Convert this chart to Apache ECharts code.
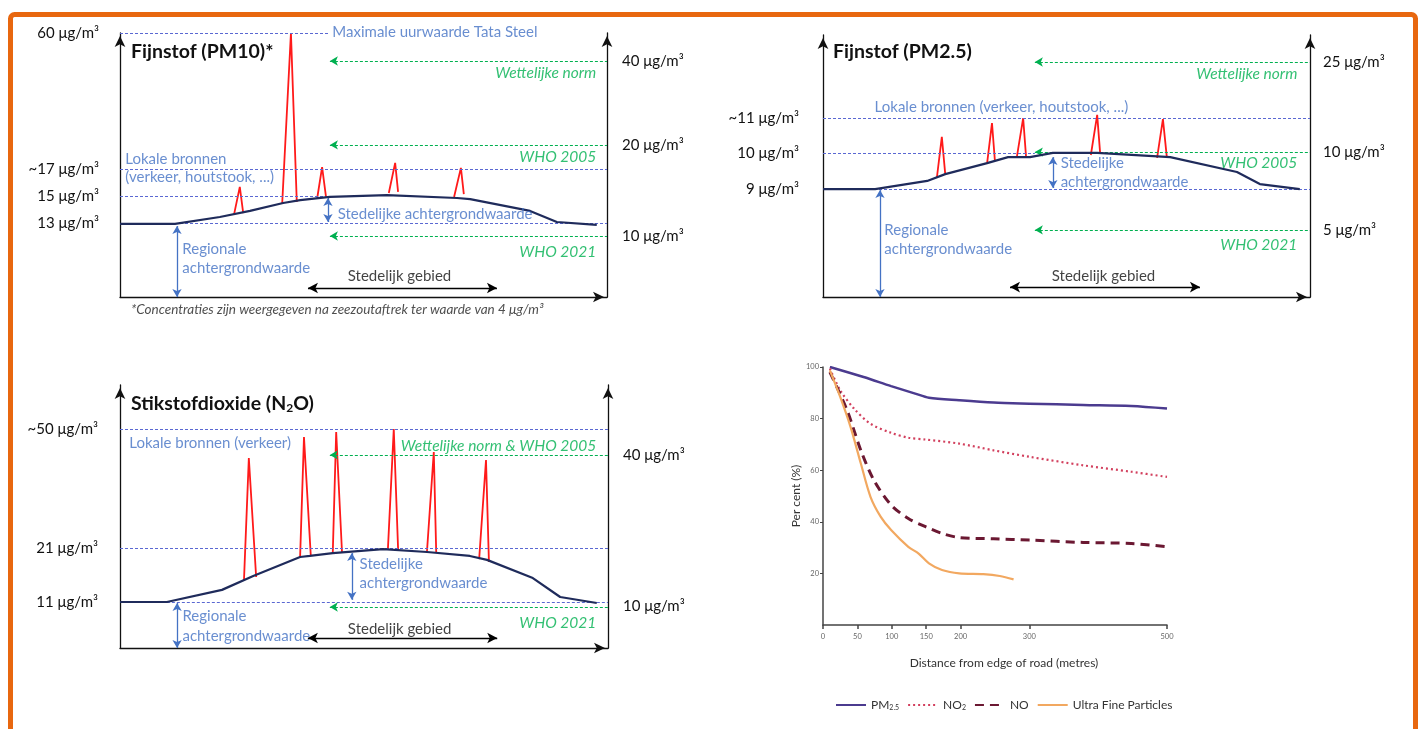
<!DOCTYPE html>
<html><head><meta charset="utf-8">
<script src="https://cdn.jsdelivr.net/npm/echarts@6/dist/echarts.min.js"></script>
<style>html,body{margin:0;padding:0;background:#fff}#c{width:1423px;height:729px}</style>
</head><body><div id="c"></div><script>
// ===== Schematic panels: x = relative distance (0-100), y = schematic height index (0-100) =====
// ---- PM10 ----
const pm10Profile = [[0,27.7],[11.3,27.7],[20.5,30.3],[26.7,32.6],[33.5,35.6],[37.0,36.7],[43.1,37.9],[54.8,38.6],[69.2,37.5],[71.9,37.1],[84.2,32.6],[89.7,28.4],[97.9,27.3]];
const pm10Peaks = [
  [[23.4,31.1],[24.6,41.7],[25.3,31.8]],
  [[33.3,35.2],[35.1,100],[36.3,36.0]],
  [[40.5,37.5],[41.5,49.2],[42.3,37.9]],
  [[55.2,39.4],[56.5,50.8],[57.1,39.8]],
  [[68.6,37.9],[70.0,48.9],[70.6,39.0]]
];
const pm10LeftLabels = ['60 μg/m³','~17 μg/m³','15 μg/m³','13 μg/m³'];
const pm10LeftLevels = [100,48.5,38.3,28.0];
const pm10RightLabels = ['40 μg/m³','20 μg/m³','10 μg/m³'];
const pm10RightLevels = [89.4,57.6,23.1];
const pm10BlueLines = [[100,0,43.1],[48.5,0,100],[38.3,0,43.1],[28.0,11.3,100]];
const pm10GreenLines = [[89.4,43.1,100],[57.6,43.1,100],[23.1,43.1,100]];
const pm10VArrows = [[11.7,26.9,0],[42.7,37.5,28.4]];
const pm10Zone = [38.6,77.4,3.4];
const pm10BlueTexts = [[43.7,100,'Maximale uurwaarde Tata Steel'],[1.2,51.9,'Lokale bronnen'],[1.2,45.1,'(verkeer, houtstook, ...)'],[44.8,31.1,'Stedelijke achtergrondwaarde'],[12.9,17.8,'Regionale'],[12.9,10.6,'achtergrondwaarde']];
const pm10GreenTexts = [[97.9,84.8,'Wettelijke norm'],[97.9,53.0,'WHO 2005'],[97.9,16.7,'WHO 2021']];
const pm10ZoneText = [57.5,7.6,'Stedelijk gebied'];
const pm10Note = [44.7,-4.9,'*Concentraties zijn weergegeven na zeezoutaftrek ter waarde van 4 μg/m³'];

// ---- PM2.5 ----
const pm25Profile = [[0,41.2],[10.7,41.2],[21.4,44.3],[25.1,46.9],[33.7,51.1],[38.0,53.4],[42.5,53.4],[47.2,55.0],[56.3,55.0],[71.3,53.4],[85.0,47.7],[89.7,43.1],[97.9,41.2]];
const pm25Peaks = [
  [[23.4,45.8],[24.4,61.1],[25.1,46.9]],
  [[33.7,51.1],[34.7,66.4],[35.3,51.9]],
  [[39.8,53.4],[41.1,68.3],[41.7,53.4]],
  [[55.0,54.2],[56.3,69.5],[56.9,55.0]],
  [[68.6,53.1],[69.8,67.9],[70.6,53.4]]
];
const pm25LeftLabels = ['~11 μg/m³','10 μg/m³','9 μg/m³'];
const pm25LeftLevels = [68.3,55.0,41.2];
const pm25RightLabels = ['25 μg/m³','10 μg/m³','5 μg/m³'];
const pm25RightLevels = [89.7,55.3,25.6];
const pm25BlueLines = [[68.3,0,100],[55.0,0,43.5],[41.2,11.5,100]];
const pm25GreenLines = [[89.7,43.5,100],[55.3,43.5,100],[25.6,43.5,100]];
const pm25VArrows = [[11.7,40.8,0],[47.2,53.4,41.6]];
const pm25Zone = [38.4,77.4,3.8];
const pm25BlueTexts = [[10.7,72.1,'Lokale bronnen (verkeer, houtstook, ...)'],[12.7,25.2,'Regionale'],[12.7,17.9,'achtergrondwaarde'],[48.9,50.8,'Stedelijke'],[48.9,43.5,'achtergrondwaarde']];
const pm25GreenTexts = [[97.5,85.1,'Wettelijke norm'],[97.5,50.8,'WHO 2005'],[97.5,19.5,'WHO 2021']];
const pm25ZoneText = [57.7,7.6,'Stedelijk gebied'];

// ---- NO2 ----
const no2Profile = [[0,17.5],[9.6,17.5],[20.9,22.1],[27.3,27.4],[36.9,34.6],[38.9,35.0],[43.6,36.1],[53.9,37.6],[62.9,36.5],[71.7,35.0],[75.2,33.5],[84.6,26.6],[90.2,19.4],[97.7,17.1]];
const no2Peaks = [
  [[25.4,25.5],[26.4,72.2],[27.9,27.0]],
  [[36.9,34.2],[37.7,80.2],[39.1,35.0]],
  [[43.6,36.1],[44.3,82.1],[45.5,36.1]],
  [[54.9,37.6],[56.1,83.3],[57.0,36.9]],
  [[62.9,36.5],[64.3,74.5],[64.8,36.1]],
  [[73.6,33.8],[75.0,71.5],[75.6,32.7]]
];
const no2LeftLabels = ['~50 μg/m³','21 μg/m³','11 μg/m³'];
const no2LeftLevels = [83.3,38.0,17.5];
const no2RightLabels = ['40 μg/m³','10 μg/m³'];
const no2RightLevels = [73.4,16.0];
const no2BlueLines = [[83.3,0,100],[38.0,0,100],[17.5,9.6,100]];
const no2GreenLines = [[73.4,43.0,100],[15.6,43.0,100]];
const no2VArrows = [[11.7,17.1,0],[47.5,36.1,18.3]];
const no2Zone = [38.5,77.3,3.8];
const no2BlueTexts = [[2.0,77.6,'Lokale bronnen (verkeer)'],[12.9,11.8,'Regionale'],[12.9,4.2,'achtergrondwaarde'],[49.2,31.6,'Stedelijke'],[49.2,24.3,'achtergrondwaarde']];
const no2GreenTexts = [[97.7,76.8,'Wettelijke norm & WHO 2005'],[97.7,9.5,'WHO 2021']];
const no2ZoneText = [57.4,6.8,'Stedelijk gebied'];

// ===== Distance-decay chart =====
const distTicks = [0,50,100,150,200,300,500];
const pctTicks = [20,40,60,80,100];
const pm25Dist = [10,59,99,134,154,198,248,300,378,448,500];
const pm25Pct  = [100,96.1,92.6,89.7,88.1,87.1,86.2,85.8,85.3,84.9,83.9];
const no2Dist  = [10,25,45,69,99,124,149,198,248,300,378,448,500];
const no2Pct   = [99.4,91,83.9,78,74.5,72.6,71.9,70.3,67.7,65.2,61.9,59.4,57.4];
const noDist   = [10,35,55,74,99,124,149,173,198,248,300,378,448,500];
const noPct    = [98,83.2,67.7,56.1,46.5,41.3,38.1,35.5,33.9,33.4,32.9,32,31.6,30.3];
const ufpDist  = [10,25,40,55,69,84,99,124,139,154,173,198,233,257,277];
const ufpPct   = [98.7,88.4,76.8,62.6,49.7,41.9,36.8,30.3,27.7,23.9,21.3,20,19.7,19,17.7];
const decayNames = ['PM2.5','NO2','NO','Ultra Fine Particles'];

// ===== styling =====
const FONT = 'Lato, "Open Sans", sans-serif';
const NAVY = '#1F2B5B', RED = '#FF1A1A', BLUE_T = '#4472C4', BLUE_L = '#5A68D2', GREEN = '#00B050';
const FS = 15;

const zip = (a, b) => a.map((v, i) => [v, b[i]]);

const grids = [
  {left:120, top:33, width:487, height:264},
  {left:823, top:35, width:487, height:262},
  {left:120, top:385, width:488, height:263},
  {left:823, top:367, width:344, height:258}
];

const xAxes = [], yAxes = [], series = [];
function lookup(levels, labels){ return v => { for (let i=0;i<levels.length;i++) if (Math.abs(levels[i]-v)<1e-6) return labels[i]; return ''; }; }
const axisArrow = {show:true, symbol:['none','arrow'], symbolSize:[8,11], symbolOffset:[0,-3], lineStyle:{color:'#111', width:1.3}};

function schematic(i, p){
  xAxes.push({gridIndex:i, type:'value', min:0, max:100, axisLine:axisArrow, axisTick:{show:false}, axisLabel:{show:false}, splitLine:{show:false}});
  yAxes.push({gridIndex:i, type:'value', min:0, max:100, position:'left', axisLine:axisArrow, axisTick:{show:false}, splitLine:{show:false},
    axisLabel:{customValues:p.leftLevels, formatter:lookup(p.leftLevels,p.leftLabels), margin:p.lm, fontFamily:FONT, fontSize:FS, color:'#111'}});
  yAxes.push({gridIndex:i, type:'value', min:0, max:100, position:'right', axisLine:axisArrow, axisTick:{show:false}, splitLine:{show:false},
    axisLabel:{customValues:p.rightLevels, formatter:lookup(p.rightLevels,p.rightLabels), margin:p.rm, fontFamily:FONT, fontSize:FS, color:'#111'}});
  const yi = yAxes.length - 2;
  const ml = [];
  p.blue.forEach(([y,a,b]) => ml.push([{coord:[a,y], symbol:'none', lineStyle:{color:BLUE_L, type:[3,2], width:1}}, {coord:[b,y], symbol:'none'}]));
  p.green.forEach(([y,a,b]) => ml.push([{coord:[a,y], symbol:'arrow', symbolSize:[7,8], lineStyle:{color:GREEN, type:[3,2], width:1.2}}, {coord:[b,y], symbol:'none'}]));
  p.varr.forEach(([x,a,b]) => ml.push([{coord:[x,a], symbol:'arrow', symbolSize:[7,8], lineStyle:{color:BLUE_T, type:'solid', width:1.3}}, {coord:[x,b], symbol:'arrow', symbolSize:[7,8]}]));
  const z = p.zone;
  ml.push([{coord:[z[0],z[2]], symbol:'arrow', symbolSize:[8,10], lineStyle:{color:'#000', type:'solid', width:1.3}}, {coord:[z[1],z[2]], symbol:'arrow', symbolSize:[8,10]}]);
  series.push({type:'line', xAxisIndex:i, yAxisIndex:yi, data:p.profile, symbol:'none', lineStyle:{color:NAVY, width:2.2}, z:5, silent:true,
    markLine:{silent:true, animation:false, label:{show:false}, emphasis:{disabled:true}, data:ml}});
  p.peaks.forEach(pk => series.push({type:'line', xAxisIndex:i, yAxisIndex:yi, data:pk, symbol:'none', lineStyle:{color:RED, width:1.8}, z:4, silent:true}));
  const texts = [];
  p.blueT.forEach(([x,y,t]) => texts.push({value:[x,y], label:{formatter:t, color:BLUE_T, fontSize:FS, align:'left'}}));
  p.greenT.forEach(([x,y,t]) => texts.push({value:[x,y], label:{formatter:t, color:GREEN, fontSize:15.5, fontStyle:'italic', align:'right'}}));
  texts.push({value:[p.zoneT[0],p.zoneT[1]], label:{formatter:p.zoneT[2], color:'#111', fontSize:FS, align:'center'}});
  if (p.note) texts.push({value:[p.note[0],p.note[1]], label:{formatter:p.note[2], color:'#222', fontSize:13.5, fontStyle:'italic', align:'center'}});
  series.push({type:'scatter', xAxisIndex:i, yAxisIndex:yi, data:texts, symbolSize:1, itemStyle:{color:'rgba(0,0,0,0)'}, clip:false, silent:true, z:6,
    label:{show:true, position:[0,0], verticalAlign:'middle', fontFamily:FONT}});
}

schematic(0, {profile:pm10Profile, peaks:pm10Peaks, leftLevels:pm10LeftLevels, leftLabels:pm10LeftLabels, rightLevels:pm10RightLevels, rightLabels:pm10RightLabels,
  lm:21, rm:15, blue:pm10BlueLines, green:pm10GreenLines, varr:pm10VArrows, zone:pm10Zone, blueT:pm10BlueTexts, greenT:pm10GreenTexts, zoneT:pm10ZoneText, note:pm10Note});
schematic(1, {profile:pm25Profile, peaks:pm25Peaks, leftLevels:pm25LeftLevels, leftLabels:pm25LeftLabels, rightLevels:pm25RightLevels, rightLabels:pm25RightLabels,
  lm:24, rm:13, blue:pm25BlueLines, green:pm25GreenLines, varr:pm25VArrows, zone:pm25Zone, blueT:pm25BlueTexts, greenT:pm25GreenTexts, zoneT:pm25ZoneText});
schematic(2, {profile:no2Profile, peaks:no2Peaks, leftLevels:no2LeftLevels, leftLabels:no2LeftLabels, rightLevels:no2RightLevels, rightLabels:no2RightLabels,
  lm:22, rm:15, blue:no2BlueLines, green:no2GreenLines, varr:no2VArrows, zone:no2Zone, blueT:no2BlueTexts, greenT:no2GreenTexts, zoneT:no2ZoneText});

// decay chart axes
const AX = '#444';
xAxes.push({gridIndex:3, type:'value', min:0, max:500, name:'Distance from edge of road (metres)', nameLocation:'middle', nameGap:32,
  nameTextStyle:{fontFamily:FONT, fontSize:12, color:'#333', padding:[0,0,0,18]},
  axisLine:{lineStyle:{color:AX, width:1.5}}, axisTick:{customValues:distTicks, length:4, lineStyle:{color:AX, width:1.5}},
  axisLabel:{customValues:distTicks, fontFamily:FONT, fontSize:7.5, color:'#666', margin:8}, splitLine:{show:false}});
yAxes.push({gridIndex:3, type:'value', min:0, max:100, name:'Per cent (%)', nameLocation:'middle', nameGap:21, nameRotate:90,
  nameTextStyle:{fontFamily:FONT, fontSize:12, color:'#333'},
  axisLine:{show:true, lineStyle:{color:AX, width:1.5}}, axisTick:{show:true, customValues:pctTicks, length:3, lineStyle:{color:AX}},
  axisLabel:{customValues:pctTicks, fontFamily:FONT, fontSize:7.5, color:'#666', margin:4}, splitLine:{show:false}});
const dYi = yAxes.length - 1;
const decay = [
  {name:decayNames[0], data:zip(pm25Dist,pm25Pct), lineStyle:{color:'#4B3B8F', width:2.5, type:'solid'}},
  {name:decayNames[1], data:zip(no2Dist,no2Pct), lineStyle:{color:'#D2405E', width:2.2, type:[2,3]}},
  {name:decayNames[2], data:zip(noDist,noPct), lineStyle:{color:'#6B1832', width:3, type:[9,6]}},
  {name:decayNames[3], data:zip(ufpDist,ufpPct), lineStyle:{color:'#F2A860', width:2.2, type:'solid'}}
];
decay.forEach(d => series.push({type:'line', name:d.name, xAxisIndex:3, yAxisIndex:dYi, data:d.data, smooth:0.3, symbol:'none', showSymbol:false,
  lineStyle:d.lineStyle, itemStyle:{color:d.lineStyle.color}, silent:true}));

const TITLE = {fontFamily:FONT, fontSize:19.5, fontWeight:'bold', color:'#111'};
const option = {
  animation:false,
  backgroundColor:'#fff',
  textStyle:{fontFamily:FONT},
  grid:grids,
  xAxis:xAxes,
  yAxis:yAxes,
  title:[
    {text:'Fijnstof (PM10)*', left:126, top:37, textStyle:TITLE},
    {text:'Fijnstof (PM2.5)', left:828, top:37, textStyle:TITLE},
    {text:'Stikstofdioxide (N{s|2}O)', left:126, top:388, textStyle:Object.assign({}, TITLE, {
      rich:{s:{fontFamily:FONT, fontSize:12, fontWeight:'bold', color:'#111', padding:[9,0,0,0]}}})}
  ],
  legend:{data:decayNames, left:830, top:694, itemWidth:30, itemHeight:8, itemGap:8, itemStyle:{opacity:0},
    textStyle:{fontFamily:FONT, fontSize:12, color:'#333', rich:{s:{fontFamily:FONT, fontSize:7, color:'#333', padding:[6,0,0,0]}}},
    formatter: n => n==='PM2.5' ? 'PM{s|2.5}' : n==='NO2' ? 'NO{s|2}' : n},
  graphic:[{type:'rect', shape:{x:10.5, y:14.5, width:1405, height:780, r:4}, style:{fill:'none', stroke:'#E8670F', lineWidth:5}, silent:true}],
  series:series
};
const chart = echarts.init(document.getElementById('c'), null, {renderer:'canvas'});
chart.setOption(option);
</script></body></html>
